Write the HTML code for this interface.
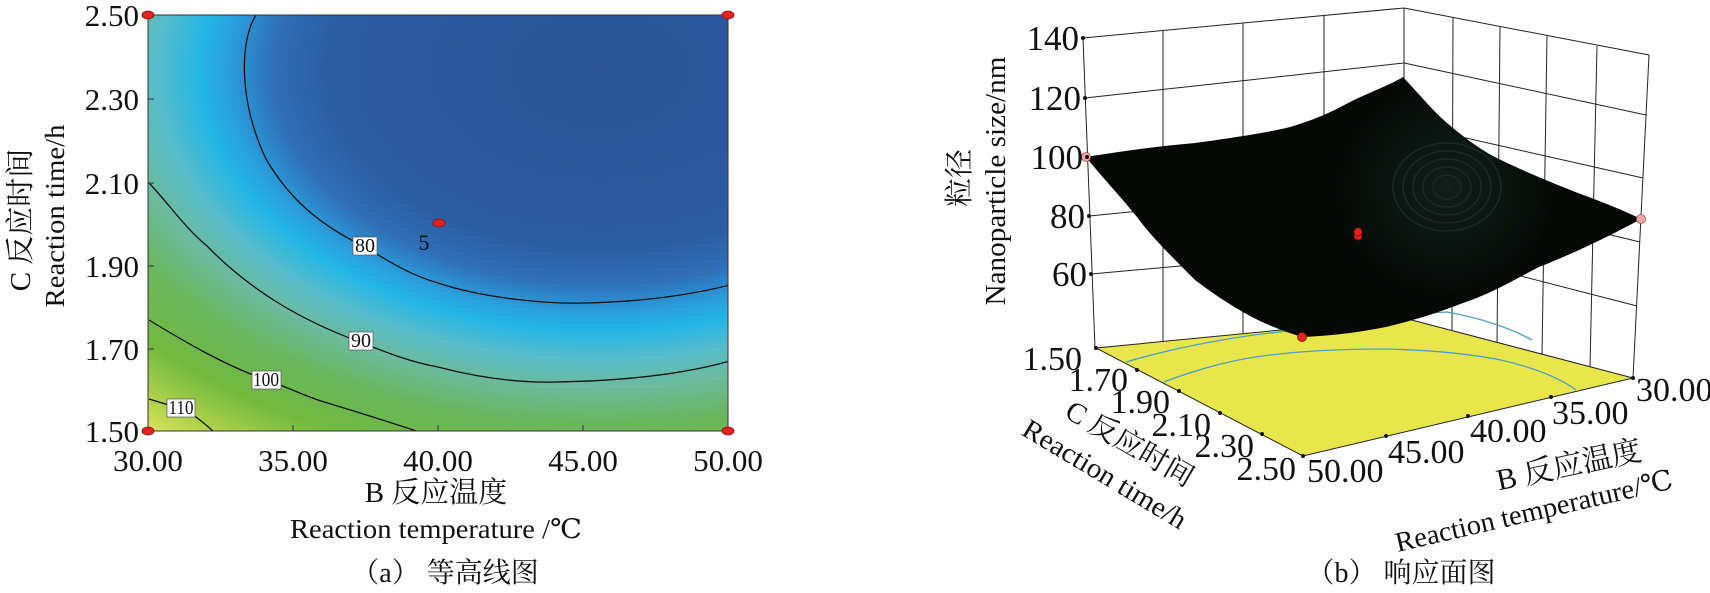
<!DOCTYPE html>
<html><head><meta charset="utf-8"><style>
html,body{margin:0;padding:0;background:#fff;}
svg{display:block;}
svg text{font-family:"Liberation Serif","DejaVu Serif","Noto Serif CJK SC",serif !important;fill:#111;}
</style></head><body>
<svg width="1710" height="593" viewBox="0 0 1710 593" xmlns="http://www.w3.org/2000/svg" font-family="'Liberation Serif','DejaVu Serif','Noto Serif CJK SC',serif">
<defs>
<radialGradient id="cg" gradientUnits="userSpaceOnUse" cx="0" cy="0" r="2" gradientTransform="translate(600,70) scale(357,233)">
<stop offset="0" stop-color="#2a559a"/>
<stop offset="0.38" stop-color="#2c5ca2"/>
<stop offset="0.46" stop-color="#2f70b8"/>
<stop offset="0.52" stop-color="#2a9edc"/>
<stop offset="0.56" stop-color="#22b6e6"/>
<stop offset="0.62" stop-color="#57bccb"/>
<stop offset="0.68" stop-color="#6bbb9e"/>
<stop offset="0.76" stop-color="#69b65c"/>
<stop offset="0.86" stop-color="#72ba3e"/>
<stop offset="0.95" stop-color="#b4d34c"/>
<stop offset="1" stop-color="#dde360"/>
</radialGradient>
<radialGradient id="sg" gradientUnits="userSpaceOnUse" cx="1447" cy="187" r="120">
<stop offset="0" stop-color="#10201a"/>
<stop offset="1" stop-color="#050805"/>
</radialGradient>
<clipPath id="cp"><rect x="148" y="15" width="580" height="416"/></clipPath>
<clipPath id="sp"><path d="M1086,157 C1130,150 1160,146 1195,143 C1240,137 1270,132 1290,127 C1320,118 1335,110 1348,103 C1370,92 1390,85 1403,77 C1420,95 1432,110 1447,123 C1465,138 1480,150 1501,160 C1530,174 1555,184 1578,193 C1605,203 1625,211 1641,219 C1610,236 1570,255 1539,267 C1510,282 1490,294 1463,303 C1440,312 1415,320 1386,327 C1350,334 1325,336 1302,337 C1280,330 1265,324 1252,317 C1230,305 1215,295 1195,280 C1170,255 1150,235 1137,217 C1115,190 1100,175 1086,157 Z"/></clipPath>
</defs>

<!-- LEFT CONTOUR PLOT -->
<rect x="148" y="15" width="580" height="416" fill="url(#cg)"/>
<g clip-path="url(#cp)" fill="none" stroke="#111" stroke-width="1.3">
<path d="M256,15 C240,40 238,100 266,159 C290,200 320,225 365,247 C390,262 410,275 438,283 C480,297 540,304 583,303 C640,302 690,295 730,285"/>
<path d="M149,183 C170,205 185,228 207,246 C250,290 300,320 360,342 C385,352 410,362 438,367 C480,378 520,383 556,382 C620,381 680,375 730,361"/>
<path d="M149,320 C190,345 225,365 266,380 C290,388 300,394 321,401 C360,413 390,422 416,431"/>
<path d="M149,399 C165,404 172,406 181,408 C195,415 205,424 213,431"/>
</g>
<rect x="148" y="15" width="580" height="416" fill="none" stroke="#333" stroke-width="1"/>
<g font-size="20" text-anchor="middle">
<rect x="353" y="237" width="24" height="18" fill="#fff" stroke="#555" stroke-width="0.7"/><text x="365" y="252" textLength="20" lengthAdjust="spacingAndGlyphs">80</text>
<rect x="349" y="332" width="24" height="18" fill="#fff" stroke="#555" stroke-width="0.7"/><text x="361" y="347" textLength="20" lengthAdjust="spacingAndGlyphs">90</text>
<rect x="252" y="371" width="29" height="18" fill="#fff" stroke="#555" stroke-width="0.7"/><text x="266" y="386" textLength="26" lengthAdjust="spacingAndGlyphs">100</text>
<rect x="167" y="399" width="28" height="18" fill="#fff" stroke="#555" stroke-width="0.7"/><text x="181" y="414" textLength="25" lengthAdjust="spacingAndGlyphs">110</text>
</g>
<text x="424" y="250" font-size="22" text-anchor="middle">5</text>
<g fill="#e52222" stroke="#8a1010" stroke-width="0.8">
<ellipse cx="148" cy="15" rx="6" ry="4"/><ellipse cx="728" cy="15" rx="6" ry="4"/>
<ellipse cx="148" cy="431" rx="6" ry="4"/><ellipse cx="728" cy="431" rx="6" ry="4"/>
<ellipse cx="439" cy="223" rx="6" ry="4"/>
</g>
<g stroke="#333" stroke-width="1">
<line x1="293" y1="431" x2="293" y2="425"/><line x1="438" y1="431" x2="438" y2="425"/><line x1="583" y1="431" x2="583" y2="425"/>
<line x1="148" y1="99" x2="154" y2="99"/><line x1="148" y1="183" x2="154" y2="183"/><line x1="148" y1="266" x2="154" y2="266"/><line x1="148" y1="349" x2="154" y2="349"/>
</g>
<g font-size="31" text-anchor="end">
<text x="139" y="26">2.50</text><text x="139" y="110">2.30</text><text x="139" y="194">2.10</text>
<text x="139" y="277">1.90</text><text x="139" y="360">1.70</text><text x="139" y="442">1.50</text>
</g>
<g font-size="31" text-anchor="middle">
<text x="148" y="471">30.00</text><text x="293" y="471">35.00</text><text x="438" y="471">40.00</text><text x="583" y="471">45.00</text><text x="728" y="471">50.00</text>
</g>
<text x="436" y="502" font-size="29" text-anchor="middle">B 反应温度</text>
<text x="436" y="538" font-size="27" text-anchor="middle" textLength="292" lengthAdjust="spacingAndGlyphs">Reaction temperature /℃</text>
<text x="445" y="582" font-size="28" text-anchor="middle">（a） 等高线图</text>
<text transform="translate(30,220) rotate(-90)" font-size="29" text-anchor="middle">C 反应时间</text>
<text transform="translate(64,216) rotate(-90)" font-size="27" text-anchor="middle" textLength="183" lengthAdjust="spacingAndGlyphs">Reaction time/h</text>

<!-- RIGHT 3D PLOT -->
<g fill="none" stroke="#222" stroke-width="1">
<line x1="1083" y1="38" x2="1404" y2="8"/>
<line x1="1404" y1="8" x2="1649" y2="55"/>
<line x1="1404" y1="8" x2="1404" y2="318"/>
<line x1="1649" y1="55" x2="1633" y2="378"/>
<line x1="1083" y1="38" x2="1095" y2="348"/>
<line x1="1163" y1="31" x2="1163" y2="341"/><line x1="1243" y1="23" x2="1243" y2="333"/><line x1="1324" y1="16" x2="1324" y2="326"/>
<line x1="1085" y1="98" x2="1404" y2="63"/><line x1="1087" y1="157" x2="1404" y2="124"/><line x1="1089" y1="216" x2="1404" y2="185"/><line x1="1091" y1="274" x2="1404" y2="246"/>
<line x1="1453" y1="17" x2="1452" y2="330"/><line x1="1500" y1="27" x2="1497" y2="343"/><line x1="1547" y1="36" x2="1542" y2="355"/><line x1="1597" y1="46" x2="1590" y2="367"/>
<line x1="1404" y1="63" x2="1646" y2="115"/><line x1="1404" y1="124" x2="1643" y2="178"/><line x1="1404" y1="185" x2="1640" y2="242"/><line x1="1404" y1="246" x2="1637" y2="306"/>
</g>
<polygon points="1096,348 1404,318 1633,378 1303,456" fill="#e9e64c" stroke="#222" stroke-width="1"/>
<g fill="none" stroke="#4aa0c8" stroke-width="1.3">
<path d="M1126,362 C1180,346 1240,336 1279,332 C1340,324 1400,314 1447,312 C1480,318 1510,328 1532,340"/>
<path d="M1164,382 C1200,368 1240,358 1271,355 C1310,350 1350,349 1386,349 C1430,350 1470,354 1501,360 C1535,368 1560,378 1576,390"/>
</g>
<path d="M1086,157 C1130,150 1160,146 1195,143 C1240,137 1270,132 1290,127 C1320,118 1335,110 1348,103 C1370,92 1390,85 1403,77 C1420,95 1432,110 1447,123 C1465,138 1480,150 1501,160 C1530,174 1555,184 1578,193 C1605,203 1625,211 1641,219 C1610,236 1570,255 1539,267 C1510,282 1490,294 1463,303 C1440,312 1415,320 1386,327 C1350,334 1325,336 1302,337 C1280,330 1265,324 1252,317 C1230,305 1215,295 1195,280 C1170,255 1150,235 1137,217 C1115,190 1100,175 1086,157 Z" fill="url(#sg)"/>
<g clip-path="url(#sp)" fill="none" stroke="#1c3028" stroke-width="1.5" opacity="0.8">
<ellipse cx="1447" cy="187" rx="14" ry="12"/><ellipse cx="1447" cy="187" rx="24" ry="20"/><ellipse cx="1447" cy="187" rx="34" ry="28"/><ellipse cx="1447" cy="187" rx="44" ry="36"/><ellipse cx="1447" cy="187" rx="54" ry="44"/>
</g>
<g fill="#e52222" stroke="#7a1010" stroke-width="0.8">
<circle cx="1302" cy="337" r="4.5"/><circle cx="1358" cy="236" r="4"/><circle cx="1358" cy="232" r="4"/>
</g>
<g fill="#f2a8a8" stroke="#a05050" stroke-width="0.8">
<circle cx="1086" cy="157" r="4.5"/><circle cx="1641" cy="219" r="4.5"/>
</g>
<g fill="#111">
<circle cx="1083" cy="38" r="2"/><circle cx="1085" cy="98" r="2"/><circle cx="1087" cy="157" r="2"/><circle cx="1089" cy="216" r="2"/><circle cx="1091" cy="274" r="2"/>
<circle cx="1096" cy="348" r="2"/><circle cx="1137" cy="370" r="2"/><circle cx="1179" cy="391" r="2"/><circle cx="1220" cy="413" r="2"/><circle cx="1262" cy="434" r="2"/><circle cx="1303" cy="456" r="2"/>
<circle cx="1386" cy="436" r="2"/><circle cx="1468" cy="416" r="2"/><circle cx="1551" cy="397" r="2"/><circle cx="1633" cy="378" r="2"/>
</g>
<g font-size="35" text-anchor="end">
<text x="1079" y="50">140</text><text x="1081" y="110">120</text><text x="1083" y="169">100</text><text x="1085" y="228">80</text><text x="1087" y="286">60</text>
</g>
<g font-size="34" text-anchor="end">
<text x="1082" y="370">1.50</text><text x="1128" y="391">1.70</text><text x="1170" y="413">1.90</text><text x="1211" y="436">2.10</text><text x="1254" y="457">2.30</text><text x="1296" y="480">2.50</text>
</g>
<g font-size="34">
<text x="1307" y="482">50.00</text><text x="1388" y="463">45.00</text><text x="1470" y="442">40.00</text><text x="1552" y="424">35.00</text><text x="1636" y="401">30.00</text>
</g>
<text transform="translate(1125,452) rotate(30)" font-size="29" text-anchor="middle">C 反应时间</text>
<text transform="translate(1100,482) rotate(31)" font-size="28" text-anchor="middle" textLength="186" lengthAdjust="spacingAndGlyphs">Reaction time/h</text>
<text transform="translate(1571,475) rotate(-12)" font-size="30" text-anchor="middle">B 反应温度</text>
<text transform="translate(1536,520) rotate(-13)" font-size="28" text-anchor="middle" textLength="284" lengthAdjust="spacingAndGlyphs">Reaction temperature/℃</text>
<text transform="translate(969,178) rotate(-90)" font-size="29" text-anchor="middle">粒径</text>
<text transform="translate(1005,181) rotate(-90)" font-size="29" text-anchor="middle" textLength="249" lengthAdjust="spacingAndGlyphs">Nanoparticle size/nm</text>
<text x="1401" y="582" font-size="28" text-anchor="middle">（b） 响应面图</text>
</svg>
</body></html>
